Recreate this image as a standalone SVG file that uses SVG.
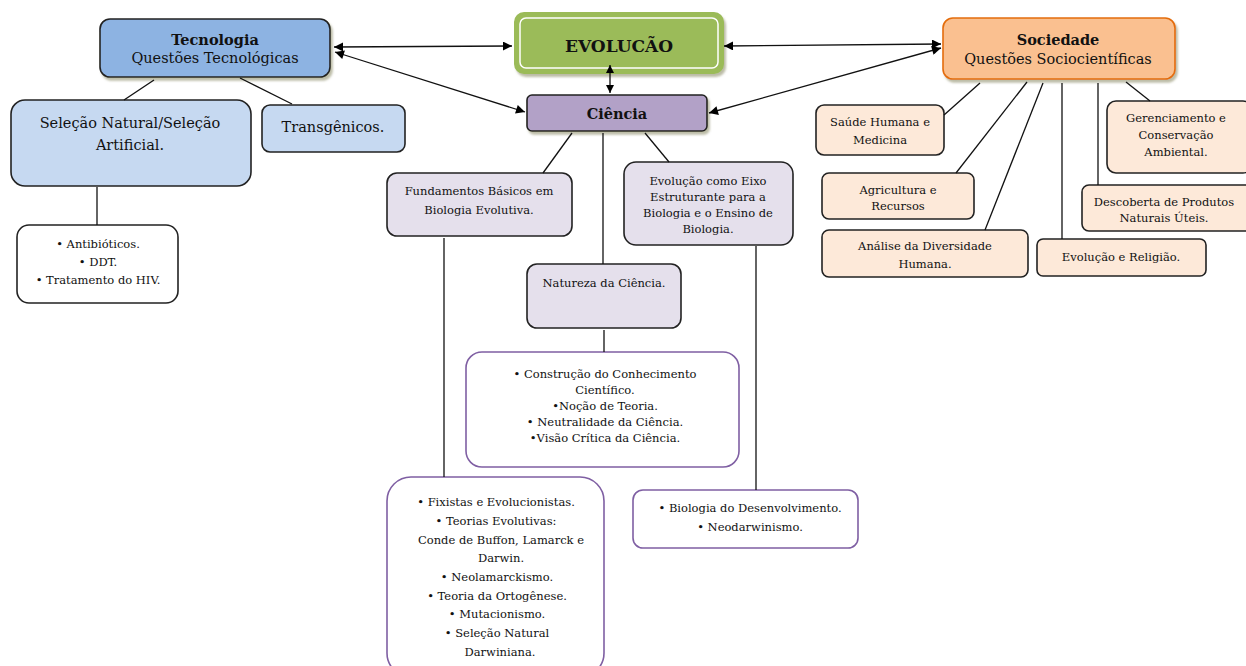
<svg xmlns="http://www.w3.org/2000/svg" width="1246" height="666" viewBox="0 0 1246 666">
<defs>
<marker id="ah" viewBox="0 0 10 10" refX="10" refY="5" markerWidth="10" markerHeight="9" orient="auto-start-reverse" markerUnits="userSpaceOnUse">
<path d="M0,0 L10,5 L0,10 z" fill="#000"/>
</marker>
<marker id="ahs" viewBox="0 0 10 10" refX="10" refY="5" markerWidth="8" markerHeight="8" orient="auto-start-reverse" markerUnits="userSpaceOnUse">
<path d="M0,0 L10,5 L0,10 z" fill="#000"/>
</marker>
<filter id="sh" x="-10%" y="-10%" width="130%" height="140%">
<feDropShadow dx="2" dy="3" stdDeviation="1.2" flood-color="#7a7a50" flood-opacity="0.5"/>
</filter>
</defs>
<style>
text{font-family:"DejaVu Serif","Liberation Serif",serif;fill:#111;text-anchor:middle}
.t15{font-size:14.5px}
.t12{font-size:11.5px}
.b{font-weight:bold}
.c{stroke:#111;stroke-width:1.3;fill:none}
.bx{stroke:#222;stroke-width:1.6}
</style>
<rect width="1246" height="666" fill="#fff"/>
<g id="tecnologia">
<rect x="100" y="19" width="230" height="58" rx="10" fill="#8db3e2" class="bx" filter="url(#sh)"/>
<text x="215" y="45" class="t15 b">Tecnologia</text>
<text x="215" y="63" class="t15">Questões Tecnológicas</text>
</g>
<g id="evolucao">
<rect x="515" y="13" width="208" height="60" rx="9" fill="#9bbb59" stroke="#9bbb59" stroke-width="2" filter="url(#sh)"/>
<rect x="520" y="18" width="198" height="50" rx="6" fill="#9bbb59" stroke="#fff" stroke-width="1.5"/>
<text x="619" y="52" style="font-size:17px" class="b">EVOLUCÃO</text>
</g>
<g id="ciencia">
<rect x="527" y="95" width="180" height="36" rx="5" fill="#b2a1c7" class="bx" filter="url(#sh)"/>
<text x="617" y="119" class="t15 b">Ciência</text>
</g>
<g id="sociedade">
<rect x="943" y="18" width="232" height="61" rx="10" fill="#fac090" stroke="#e46c0a" stroke-width="1.6" filter="url(#sh)"/>
<text x="1058" y="45" class="t15 b">Sociedade</text>
<text x="1058" y="64" class="t15">Questões Sociocientíficas</text>
</g>
<g id="selecao">
<rect x="11" y="100" width="240" height="86" rx="14" fill="#c6d9f1" class="bx"/>
<text x="130" y="128" class="t15">Seleção Natural/Seleção</text>
<text x="130" y="150" class="t15">Artificial.</text>
</g>
<g id="transgenicos">
<rect x="262" y="105" width="143" height="47" rx="8" fill="#c6d9f1" class="bx"/>
<text x="333" y="132" class="t15">Transgênicos.</text>
</g>
<g id="antibioticos">
<rect x="17" y="225" width="161" height="78" rx="12" fill="#fff" class="bx"/>
<text x="98" y="248" class="t12">• Antibióticos.</text>
<text x="98" y="266" class="t12">• DDT.</text>
<text x="98" y="284" class="t12">• Tratamento do HIV.</text>
</g>
<g id="fundamentos">
<rect x="387" y="173" width="185" height="63" rx="10" fill="#e5e0ec" class="bx"/>
<text x="479" y="195" class="t12">Fundamentos Básicos em</text>
<text x="479" y="214" class="t12">Biologia Evolutiva.</text>
</g>
<g id="eixo">
<rect x="624" y="162" width="169" height="83" rx="12" fill="#e5e0ec" class="bx"/>
<text x="708" y="185" class="t12">Evolução como Eixo</text>
<text x="708" y="201" class="t12">Estruturante para a</text>
<text x="708" y="217" class="t12">Biologia e o Ensino de</text>
<text x="708" y="233" class="t12">Biologia.</text>
</g>
<g id="natureza">
<rect x="527" y="264" width="154" height="64" rx="10" fill="#e5e0ec" class="bx"/>
<text x="604" y="287" class="t12">Natureza da Ciência.</text>
</g>
<g id="construcao">
<rect x="466" y="352" width="273" height="115" rx="16" fill="#fff" stroke="#7f5fa3" stroke-width="1.6"/>
<text x="605" y="378" class="t12">• Construção do Conhecimento</text>
<text x="605" y="394" class="t12">Científico.</text>
<text x="605" y="410" class="t12">•Noção de Teoria.</text>
<text x="605" y="426" class="t12">• Neutralidade da Ciência.</text>
<text x="605" y="442" class="t12">•Visão Crítica da Ciência.</text>
</g>
<g id="fixistas">
<rect x="387" y="477" width="217" height="200" rx="24" fill="#fff" stroke="#7f5fa3" stroke-width="1.6"/>
<text x="496" y="506" class="t12">• Fixistas e Evolucionistas.</text>
<text x="496" y="525" class="t12">• Teorias Evolutivas:</text>
<text x="501" y="544" class="t12">Conde de Buffon, Lamarck e</text>
<text x="501" y="562" class="t12">Darwin.</text>
<text x="497" y="581" class="t12">• Neolamarckismo.</text>
<text x="497" y="600" class="t12">• Teoria da Ortogênese.</text>
<text x="497" y="618" class="t12">• Mutacionismo.</text>
<text x="497" y="637" class="t12">• Seleção Natural</text>
<text x="500" y="656" class="t12">Darwiniana.</text>
</g>
<g id="desenvolvimento">
<rect x="633" y="490" width="225" height="58" rx="10" fill="#fff" stroke="#7f5fa3" stroke-width="1.6"/>
<text x="750" y="512" class="t12">• Biologia do Desenvolvimento.</text>
<text x="750" y="531" class="t12">• Neodarwinismo.</text>
</g>
<g id="saude">
<rect x="816" y="105" width="128" height="50" rx="8" fill="#fde9d9" class="bx"/>
<text x="880" y="126" class="t12">Saúde Humana e</text>
<text x="880" y="144" class="t12">Medicina</text>
</g>
<g id="agricultura">
<rect x="822" y="173" width="152" height="46" rx="7" fill="#fde9d9" class="bx"/>
<text x="898" y="194" class="t12">Agricultura e</text>
<text x="898" y="210" class="t12">Recursos</text>
</g>
<g id="analise">
<rect x="822" y="230" width="206" height="47" rx="7" fill="#fde9d9" class="bx"/>
<text x="925" y="250" class="t12">Análise da Diversidade</text>
<text x="925" y="268" class="t12">Humana.</text>
</g>
<g id="religiao">
<rect x="1037" y="239" width="169" height="37" rx="6" fill="#fde9d9" class="bx"/>
<text x="1121" y="261" class="t12">Evolução e Religião.</text>
</g>
<g id="descoberta">
<rect x="1082" y="185" width="170" height="46" rx="7" fill="#fde9d9" class="bx"/>
<text x="1164" y="206" class="t12">Descoberta de Produtos</text>
<text x="1164" y="222" class="t12">Naturais Úteis.</text>
</g>
<g id="gerenciamento">
<rect x="1107" y="101" width="145" height="72" rx="9" fill="#fde9d9" class="bx"/>
<text x="1176" y="122" class="t12">Gerenciamento e</text>
<text x="1176" y="139" class="t12">Conservação</text>
<text x="1176" y="156" class="t12">Ambiental.</text>
</g>
<g id="connectors">
<line class="c" x1="334" y1="47" x2="512" y2="46" marker-start="url(#ah)" marker-end="url(#ah)"/>
<line class="c" x1="335" y1="52" x2="525" y2="112" marker-start="url(#ah)" marker-end="url(#ah)"/>
<line class="c" x1="610" y1="65" x2="610" y2="93" marker-start="url(#ahs)" marker-end="url(#ahs)"/>
<line class="c" x1="724" y1="46" x2="941" y2="44" marker-start="url(#ah)" marker-end="url(#ah)"/>
<line class="c" x1="941" y1="48" x2="709" y2="113" marker-start="url(#ah)" marker-end="url(#ah)"/>
<line class="c" x1="154" y1="80" x2="124" y2="100"/>
<line class="c" x1="240" y1="78" x2="292" y2="104"/>
<line class="c" x1="97" y1="187" x2="97" y2="225"/>
<line class="c" x1="572" y1="133" x2="543" y2="173"/>
<line class="c" x1="603" y1="133" x2="603" y2="264"/>
<line class="c" x1="645" y1="133" x2="669" y2="162"/>
<line class="c" x1="444" y1="238" x2="444" y2="477"/>
<line class="c" x1="604" y1="330" x2="604" y2="352"/>
<line class="c" x1="756" y1="246" x2="756" y2="490"/>
<line class="c" x1="980" y1="83" x2="944" y2="115"/>
<line class="c" x1="1027" y1="82" x2="956" y2="173"/>
<line class="c" x1="1043" y1="83" x2="985" y2="230"/>
<line class="c" x1="1062" y1="83" x2="1062" y2="239"/>
<line class="c" x1="1098" y1="83" x2="1098" y2="185"/>
<line class="c" x1="1126" y1="82" x2="1150" y2="101"/>
</g>
</svg>
